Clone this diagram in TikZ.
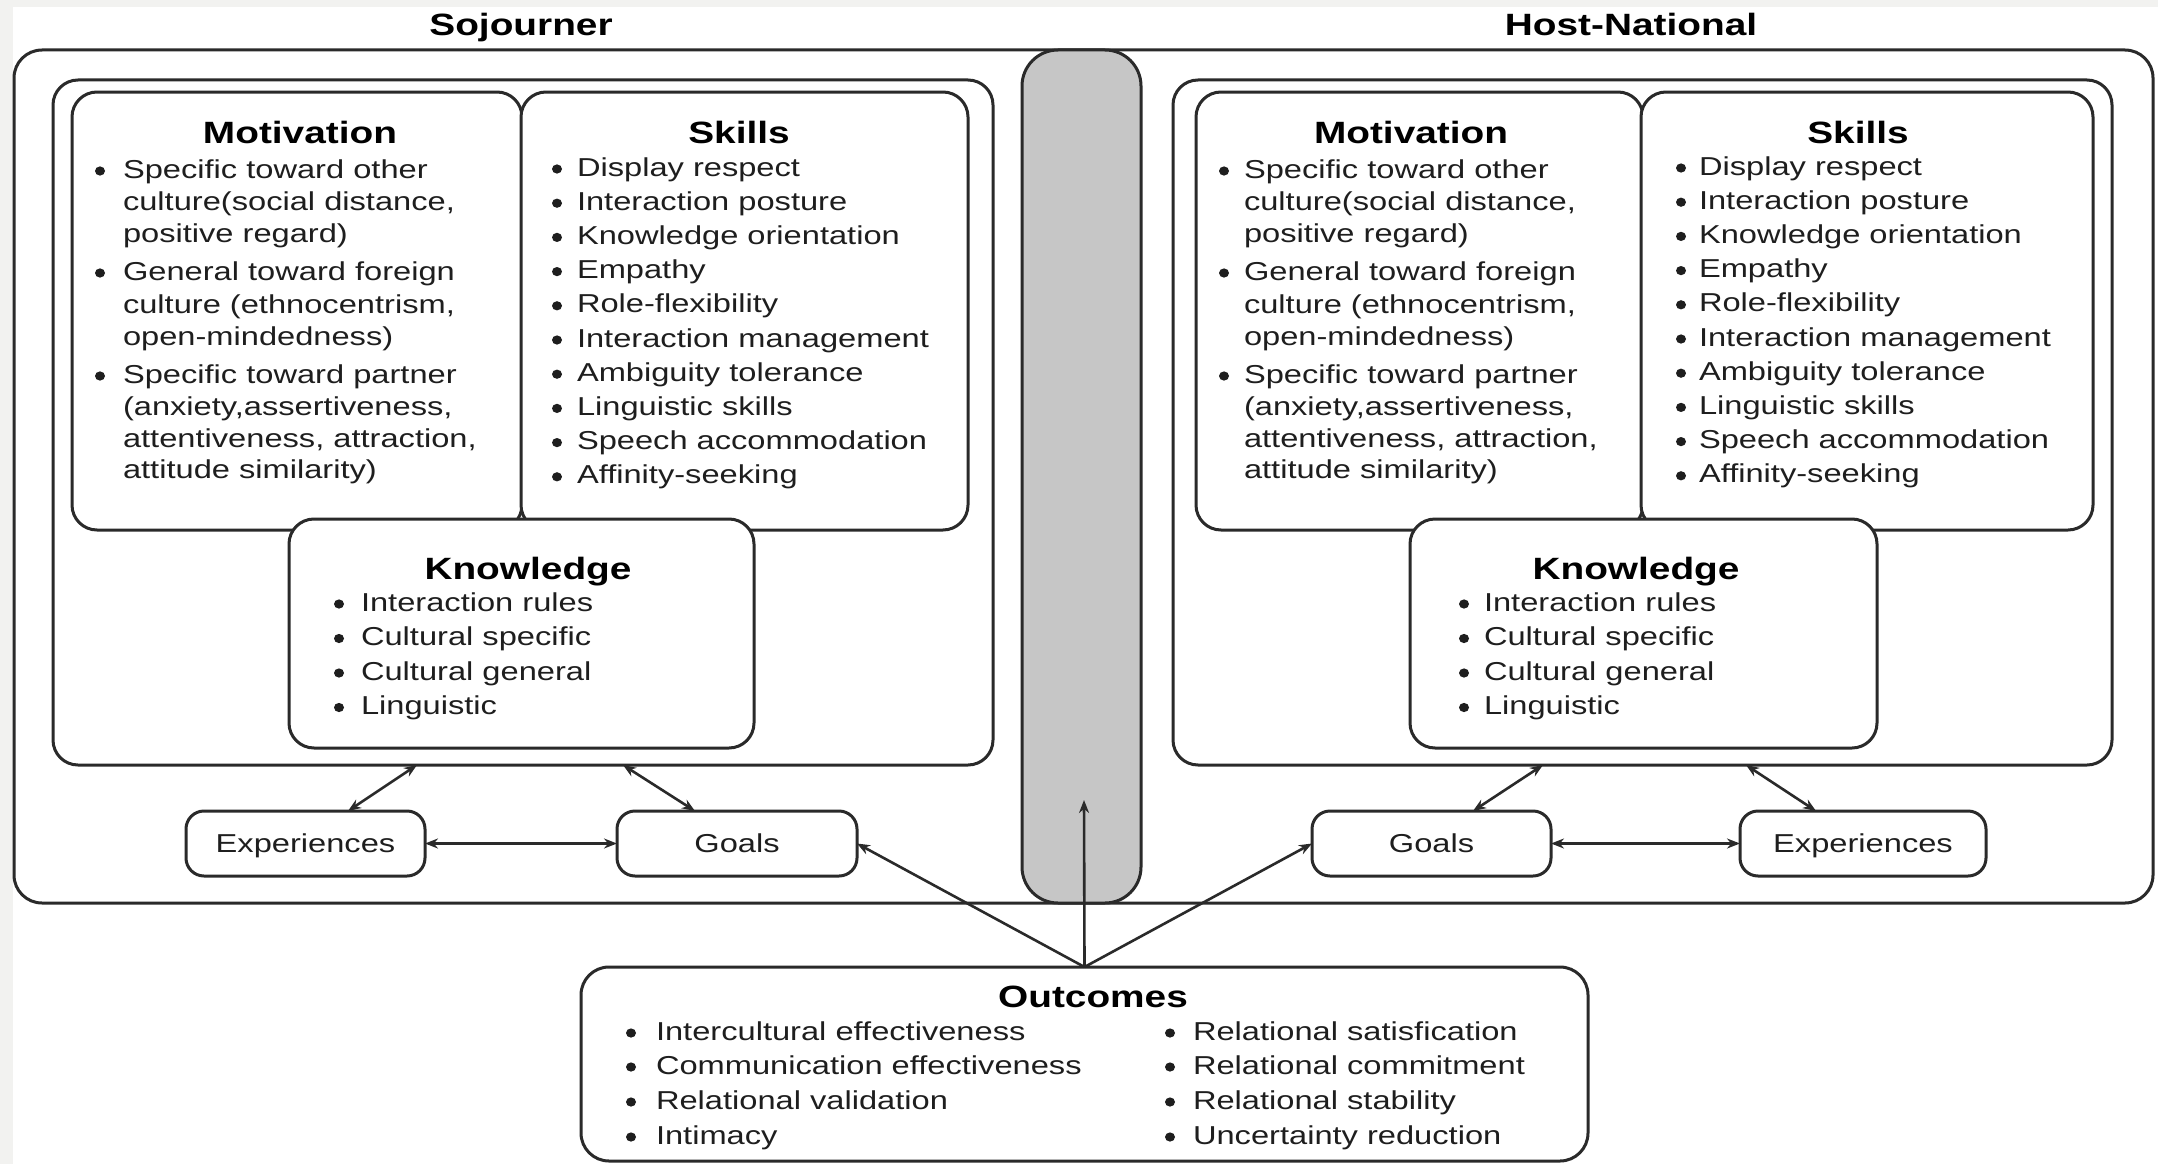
\documentclass[tikz,border=0pt]{standalone}
\usepackage{fontspec}
\setmainfont{Liberation Sans}[FakeStretch=1.26]
\usetikzlibrary{arrows.meta}
\definecolor{linec}{HTML}{2A2A2A}
\definecolor{barc}{HTML}{C6C6C6}
\definecolor{bgc}{HTML}{F2F2F0}
\definecolor{textc}{HTML}{1E1E1E}
\newcommand\mylist[4]{%
  \foreach \yy/\bflag/\ltext [count=\i] in {#4} {%
    \node[txt, anchor=base west] (#1\i) at (#3,\yy) {\ltext};
    \ifnum\bflag=1 \fill[textc] (#2,\yy-7) ellipse (5pt and 4.6pt);\fi
  }}
\begin{document}
\begin{tikzpicture}[x=1pt,y=-1pt,
  box/.style={draw=linec, line width=3pt, fill=white, rounded corners=25pt,
    inner sep=0pt, outer sep=0pt, anchor=center},
  smallbox/.style={box, rounded corners=18pt, minimum height=65pt,
    font=\fontsize{25.9}{32}\selectfont, text=textc, text height=19pt, text depth=1pt},
  txt/.style={inner sep=0pt, outer sep=0pt, font=\fontsize{25.9}{32}\selectfont, text=textc},
  ttl/.style={inner sep=0pt, outer sep=0pt, anchor=base, font=\fontsize{30.8}{36}\selectfont\bfseries, text=black},
  arr/.style={draw=linec, line width=2.6pt, -{Stealth[length=13pt,width=10pt]}},
  darr/.style={draw=linec, line width=2.6pt, {Stealth[length=13pt,width=10pt]}-{Stealth[length=13pt,width=10pt]}}]
\useasboundingbox (0,0) rectangle (2158,1164);
\fill[white] (0,0) rectangle (2158,1164);
\fill[bgc] (0,0) rectangle (2158,7);
\fill[bgc] (0,0) rectangle (13,1164);

% titles
\node[ttl] (tsoj) at (521,36) {Sojourner};
\node[ttl] (thost) at (1631,36) {Host-National};

% outer box and central bar
\node[box, rounded corners=28pt, minimum width=2139pt, minimum height=853pt] (outer) at (1083.5,476.5) {};
\node[box, fill=barc, rounded corners=36pt, minimum width=119pt, minimum height=853pt] (bar) at (1081.5,476.5) {};

% Sojourner side
\node[box, minimum width=940pt, minimum height=685pt] (sojin) at (523,422.5) {};
\node[box, minimum width=450pt, minimum height=438pt] (smot) at (297,311) {};
\node[box, minimum width=447pt, minimum height=438pt] (sskl) at (744.5,311) {};
\node[box, minimum width=465pt, minimum height=229pt] (sknw) at (521.5,633.5) {};
\node[ttl] (smott) at (300,143) {Motivation};
\node[ttl] (ssklt) at (739,143) {Skills};
\node[ttl] (sknwt) at (528,579) {Knowledge};
\mylist{smotl}{100}{123}{178/1/{Specific toward other}, 210/0/{culture(social distance,}, 242/0/{positive regard)},
  280/1/{General toward foreign}, 313/0/{culture (ethnocentrism,}, 345/0/{open-mindedness)},
  383/1/{Specific toward partner}, 415/0/{(anxiety,assertiveness,}, 447/0/{attentiveness, attraction,}, 478/0/{attitude similarity)}}
\mylist{sskll}{557}{577}{176/1/{Display respect}, 210.2/1/{Interaction posture}, 244.4/1/{Knowledge orientation}, 278.6/1/{Empathy},
  312.8/1/{Role-flexibility}, 347/1/{Interaction management}, 381.2/1/{Ambiguity tolerance}, 415.4/1/{Linguistic skills},
  449.6/1/{Speech accommodation}, 483.8/1/{Affinity-seeking}}
\mylist{sknwl}{339}{361}{611/1/{Interaction rules}, 645.5/1/{Cultural specific}, 680/1/{Cultural general}, 714.5/1/{Linguistic}}
\node[smallbox, minimum width=239pt] (sexp) at (305.5,843.5) {Experiences};
\node[smallbox, minimum width=240pt] (sgoal) at (737,843.5) {Goals};

% Host-National side
\node[box, minimum width=939pt, minimum height=685pt] (hin) at (1642.5,422.5) {};
\node[box, minimum width=447pt, minimum height=438pt] (hmot) at (1419.5,311) {};
\node[box, minimum width=452pt, minimum height=438pt] (hskl) at (1867,311) {};
\node[box, minimum width=467pt, minimum height=229pt] (hknw) at (1643.5,633.5) {};
\node[ttl] (hmott) at (1411,143) {Motivation};
\node[ttl] (hsklt) at (1858,143) {Skills};
\node[ttl] (hknwt) at (1636,579) {Knowledge};
\mylist{hmotl}{1224}{1244}{178/1/{Specific toward other}, 210/0/{culture(social distance,}, 242/0/{positive regard)},
  280/1/{General toward foreign}, 313/0/{culture (ethnocentrism,}, 345/0/{open-mindedness)},
  383/1/{Specific toward partner}, 415/0/{(anxiety,assertiveness,}, 447/0/{attentiveness, attraction,}, 478/0/{attitude similarity)}}
\mylist{hskll}{1681}{1699}{175/1/{Display respect}, 209.2/1/{Interaction posture}, 243.4/1/{Knowledge orientation}, 277.6/1/{Empathy},
  311.8/1/{Role-flexibility}, 346/1/{Interaction management}, 380.2/1/{Ambiguity tolerance}, 414.4/1/{Linguistic skills},
  448.6/1/{Speech accommodation}, 482.8/1/{Affinity-seeking}}
\mylist{hknwl}{1464}{1484}{611/1/{Interaction rules}, 645.5/1/{Cultural specific}, 680/1/{Cultural general}, 714.5/1/{Linguistic}}
\node[smallbox, minimum width=239pt] (hgoal) at (1431.5,843.5) {Goals};
\node[smallbox, minimum width=246pt] (hexp) at (1863,843.5) {Experiences};

% Outcomes
\node[box, rounded corners=28pt, minimum width=1007pt, minimum height=194pt] (out) at (1084.5,1064) {};
\node[ttl] (outt) at (1093,1007) {Outcomes};
\mylist{outl}{631}{656}{1040/1/{Intercultural effectiveness}, 1074/1/{Communication effectiveness}, 1109/1/{Relational validation}, 1144/1/{Intimacy}}
\mylist{outr}{1170}{1193}{1040/1/{Relational satisfication}, 1074/1/{Relational commitment}, 1109/1/{Relational stability}, 1144/1/{Uncertainty reduction}}

% connectors
\coordinate (uptip) at (1084,800);
\draw[darr] (417,0 |- sojin.south) -- (348,0 |- sexp.north);
\draw[darr] (623,0 |- sojin.south) -- (695,0 |- sgoal.north);
\draw[darr] (sexp.east) -- (sgoal.west);
\draw[darr] (1543,0 |- hin.south) -- (1473,0 |- hgoal.north);
\draw[darr] (1746,0 |- hin.south) -- (1816,0 |- hexp.north);
\draw[darr] (hgoal.east) -- (hexp.west);
\draw[arr] (out.north) -- (sgoal.east);
\draw[arr] (out.north) -- (uptip);
\draw[arr] (out.north) -- (hgoal.west);
\end{tikzpicture}
\end{document}
